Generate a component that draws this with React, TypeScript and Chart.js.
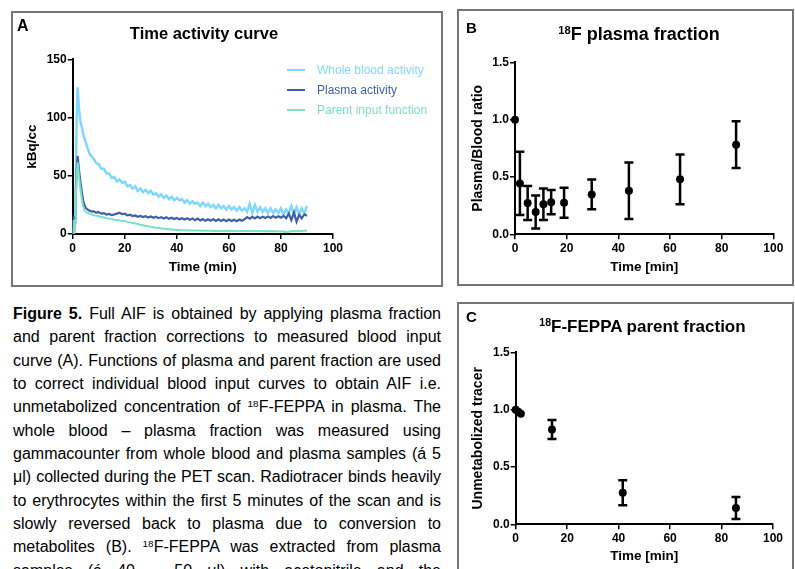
import React, { useEffect, useRef } from "react";
import { Chart, registerables } from "chart.js";

Chart.register(...registerables);

const FONT = '"Liberation Sans", Arial, Helvetica, sans-serif';
Chart.defaults.font.family = FONT;
Chart.defaults.color = "#000";

// ---------- Panel A: time activity curve ----------
const timeMin = [
  0, 0.15, 0.3, 0.5, 0.7, 0.9, 1.2, 1.5, 1.9, 2.4, 3, 3.5, 4, 4.5, 5, 5.5, 6, 6.5, 7, 7.5, 8,
  9, 10, 11, 12, 13, 14, 15, 16, 17, 18, 19, 20, 21, 22, 23, 24, 25, 26, 27, 28, 29, 30,
  31, 32, 33, 34, 35, 36, 37, 38, 39, 40, 41, 42, 43, 44, 45, 46, 47, 48, 49, 50,
  51, 52, 53, 54, 55, 56, 57, 58, 59, 60, 61, 62, 63, 64, 65, 66, 67, 68, 69, 70,
  71, 72, 73, 74, 75, 76, 77, 78, 79, 80, 81, 82, 83, 84, 85, 86, 87, 88, 89, 90,
];

const wholeBlood = [
  0, 2, 0, 3, 5, 10, 45, 95, 126, 108, 96, 92, 86, 82, 79, 75, 72, 69, 67, 66, 65,
  61, 60, 56, 56, 52, 52, 48, 49, 45, 47, 44, 45, 41, 42, 39, 41, 37, 39, 36, 38, 35, 37,
  34, 35, 32, 34, 31, 33, 30, 32, 29, 31, 29, 30, 27, 29, 26, 28, 26, 27, 24, 27,
  24, 26, 23, 25, 22, 25, 22, 24, 21, 24, 21, 23, 20, 23, 20, 22, 19, 26, 18, 25,
  19, 23, 19, 22, 18, 22, 18, 21, 18, 22, 17, 21, 18, 24, 17, 23, 17, 22, 18, 24,
];

const plasmaActivity = [
  0, 13, 12, 13, 12, 14, 35, 55, 67, 55, 44, 36, 29, 25, 22.5, 21.5, 20.5, 20, 19.5, 19.2, 19.5,
  18.3, 18.8, 17.5, 17.9, 16.6, 17.2, 16.2, 16.8, 17.5, 18.2, 17.0, 17.4, 16.0, 16.6, 15.4, 15.9, 14.8, 15.5, 14.5, 15.2, 14.2, 15.0,
  13.9, 14.8, 13.6, 14.5, 13.3, 14.3, 13.0, 14.0, 12.8, 13.8, 12.6, 13.6, 12.4, 13.5, 12.3, 13.4, 11.9, 13.2, 11.6, 12.9,
  11.5, 12.7, 11.4, 12.8, 11.3, 12.6, 11.2, 12.5, 11.0, 12.4, 11.1, 12.3, 11.0, 12.4, 11.3, 12.6, 14.5, 13.2, 14.8, 13.4,
  15.0, 13.6, 14.9, 13.7, 15.1, 13.8, 15.3, 13.9, 15.2, 14.0, 15.6, 13.5, 17.5, 12.0, 18.5, 10.5, 16.5, 13.5, 17.0, 15.5,
];

const parentInput = [
  0, 12, 1, 12, 1, 12, 30, 50, 61.5, 50, 38, 30, 24, 20.5, 19, 18.3, 17.8, 17.3, 16.9, 16.5, 16.2,
  15.6, 15.3, 14.6, 14.2, 13.6, 13.2, 12.8, 12.3, 12.0, 11.6, 11.3, 10.9, 10.4, 10.0, 9.4, 9.0, 8.5, 8.0, 7.5, 7.0, 6.6, 6.2,
  5.8, 5.4, 5.1, 4.8, 4.5, 4.3, 4.1, 3.9, 3.7, 3.5, 3.4, 3.3, 3.2, 3.2, 3.1, 3.0, 3.0, 2.9, 2.9, 2.8,
  2.9, 2.7, 2.8, 2.6, 2.8, 2.6, 2.7, 2.5, 2.7, 2.6, 2.8, 2.5, 2.6, 2.4, 2.7, 2.5, 2.6, 2.4, 2.7, 2.5,
  2.6, 2.4, 2.5, 2.3, 2.6, 2.4, 2.5, 2.3, 2.4, 2.2, 2.3, 1.6, 2.0, 2.4, 2.6, 2.3, 2.7, 2.5, 2.8, 2.9,
];

const seriesLabelsA = ["Whole blood activity", "Plasma activity", "Parent input function"];
const seriesColorsA = ["#80D8FC", "#4060AA", "#7DE0C5"];
const ticksA_x = [0, 20, 40, 60, 80, 100];
const ticksA_y = [0, 50, 100, 150];

// ---------- Panel B: 18F plasma fraction ----------
const plasmaTime = [0, 1.9, 4.9, 8, 11, 14, 19, 29.7, 44.1, 63.9, 85.6];
const plasmaRatio = [1.0, 0.444, 0.273, 0.195, 0.262, 0.28, 0.275, 0.348, 0.38, 0.48, 0.782];
const plasmaSD = [0, 0.275, 0.148, 0.144, 0.138, 0.106, 0.13, 0.13, 0.247, 0.217, 0.203];

// ---------- Panel C: parent fraction ----------
const parentTime = [0, 1, 2, 14.1, 41.6, 85.6];
const parentFraction = [1.0, 0.982, 0.965, 0.826, 0.275, 0.143];
const parentSD = [0, 0, 0, 0.083, 0.109, 0.096];

const ticksBC_x = [0, 20, 40, 60, 80, 100];
const ticksBC_y = [0, 0.5, 1.0, 1.5];

const toPoints = (xs: number[], ys: number[]) =>
  xs.map((x, i) => ({ x, y: ys[i] })).filter((p) => p.y !== undefined);

// ---------- plugins ----------
const lineLegend = {
  id: "lineLegend",
  afterDraw(chart: any, _args: any, opts: any) {
    const ctx = chart.ctx as CanvasRenderingContext2D;
    chart.data.datasets.forEach((ds: any, i: number) => {
      const y = opts.y0 + i * opts.dy;
      ctx.save();
      ctx.strokeStyle = ds.borderColor;
      ctx.lineWidth = 2;
      ctx.beginPath();
      ctx.moveTo(opts.x0, y);
      ctx.lineTo(opts.x0 + opts.len, y);
      ctx.stroke();
      ctx.fillStyle = ds.borderColor;
      ctx.font = `12px ${FONT}`;
      ctx.textBaseline = "middle";
      ctx.textAlign = "left";
      ctx.fillText(ds.label, opts.x0 + opts.len + opts.gap, y + 0.5);
      ctx.restore();
    });
  },
};

const errorBars = {
  id: "errorBars",
  beforeDatasetsDraw(chart: any, _args: any, opts: any) {
    const ctx = chart.ctx as CanvasRenderingContext2D;
    const xs = chart.scales.x;
    const ys = chart.scales.y;
    chart.data.datasets.forEach((ds: any) => {
      const errs: number[] = ds.errors || [];
      ds.data.forEach((p: any, i: number) => {
        const e = errs[i];
        if (!e) return;
        const px = xs.getPixelForValue(p.x);
        const yt = ys.getPixelForValue(p.y + e);
        const yb = ys.getPixelForValue(p.y - e);
        ctx.save();
        ctx.strokeStyle = "#000";
        ctx.lineWidth = opts.lineWidth;
        ctx.beginPath();
        ctx.moveTo(px, yt);
        ctx.lineTo(px, yb);
        ctx.moveTo(px - opts.cap, yt);
        ctx.lineTo(px + opts.cap, yt);
        ctx.moveTo(px - opts.cap, yb);
        ctx.lineTo(px + opts.cap, yb);
        ctx.stroke();
        ctx.restore();
      });
    });
  },
};

const axis = (
  min: number,
  max: number,
  ticks: number[],
  title: string,
  titleSize: number,
  fitSize: number,
  horizontal: boolean,
  decimals: number
) => ({
  type: "linear",
  min,
  max,
  afterBuildTicks: (s: any) => {
    s.ticks = ticks.map((v) => ({ value: v }));
  },
  afterFit: (s: any) => {
    if (horizontal) s.height = fitSize;
    else s.width = fitSize;
  },
  ticks: {
    color: "#000",
    font: { size: 12, weight: "bold" },
    padding: horizontal ? 2 : 1,
    callback: (v: any) => Number(v).toFixed(decimals),
    maxRotation: 0,
    autoSkip: false,
  },
  grid: {
    drawOnChartArea: false,
    drawTicks: true,
    tickLength: 5,
    color: "#000",
    lineWidth: 1.5,
  },
  border: { display: true, color: "#000", width: 2 },
  title: {
    display: true,
    text: title,
    color: "#000",
    font: { size: titleSize, weight: "bold" },
    padding: { top: 0, bottom: 0 },
  },
});

export default function App() {
  const refA = useRef<HTMLCanvasElement>(null);
  const refB = useRef<HTMLCanvasElement>(null);
  const refC = useRef<HTMLCanvasElement>(null);

  useEffect(() => {
    const seriesA = [wholeBlood, plasmaActivity, parentInput];
    const widthsA = [2.5, 2.2, 2];
    const chartA = new Chart(refA.current as HTMLCanvasElement, {
      type: "line",
      data: {
        datasets: seriesA.map((vals, i) => ({
          label: seriesLabelsA[i],
          data: toPoints(timeMin, vals),
          borderColor: seriesColorsA[i],
          backgroundColor: seriesColorsA[i],
          borderWidth: widthsA[i],
          pointRadius: 0,
          tension: 0,
          order: 3 - i,
        })),
      },
      options: {
        animation: false,
        responsive: false,
        events: [],
        layout: { padding: { left: 11.9, top: 47.3, right: 109, bottom: 10.9 } },
        plugins: {
          legend: { display: false },
          tooltip: { enabled: false },
          lineLegend: { x0: 275, len: 18, gap: 12, y0: 58, dy: 20 },
        } as any,
        scales: {
          x: axis(0, 100, ticksA_x, "Time (min)", 13.5, 41.1, true, 0),
          y: axis(0, 150, ticksA_y, "kBq/cc", 13.5, 48.8, false, 0),
        } as any,
      },
      plugins: [lineLegend as any],
    });

    const scatterCfg = (
      canvas: HTMLCanvasElement,
      xs: number[],
      ys: number[],
      sd: number[],
      yTitle: string,
      padding: any,
      xFit: number,
      yFit: number
    ) =>
      new Chart(canvas, {
        type: "scatter",
        data: {
          datasets: [
            {
              label: yTitle,
              data: toPoints(xs, ys),
              errors: sd,
              pointRadius: 4,
              pointBackgroundColor: "#000",
              pointBorderColor: "#000",
              pointBorderWidth: 0,
              clip: false,
            } as any,
          ],
        },
        options: {
          animation: false,
          responsive: false,
          events: [],
          layout: { padding },
          plugins: {
            legend: { display: false },
            tooltip: { enabled: false },
            errorBars: { lineWidth: 2.5, cap: 4.5 },
          } as any,
          scales: {
            x: axis(0, 100, ticksBC_x, "Time [min]", 13.5, xFit, true, 0),
            y: axis(0, 1.5, ticksBC_y, yTitle, 14, yFit, false, 1),
          } as any,
        },
        plugins: [errorBars as any],
      });

    const chartB = scatterCfg(
      refB.current as HTMLCanvasElement,
      plasmaTime,
      plasmaRatio,
      plasmaSD,
      "Plasma/Blood ratio",
      { left: 11.6, top: 52.3, right: 18.7, bottom: 9.9 },
      40.8,
      45.4
    );
    const chartC = scatterCfg(
      refC.current as HTMLCanvasElement,
      parentTime,
      parentFraction,
      parentSD,
      "Unmetabolized tracer",
      { left: 11.6, top: 47.3, right: 19, bottom: 4.9 },
      39.8,
      46.1
    );

    return () => {
      chartA.destroy();
      chartB.destroy();
      chartC.destroy();
    };
  }, []);

  const abs = (o: any) => ({ position: "absolute" as const, ...o });
  const panelBorder = "2px solid #767676";
  const titleStyle = (cx: number, cy: number, size: number) =>
    abs({
      left: cx,
      top: cy,
      transform: "translate(-50%, -50%)",
      whiteSpace: "nowrap",
      fontWeight: "bold",
      fontSize: size,
      lineHeight: 1.15,
      color: "#000",
    });
  const sup = { fontSize: "0.62em", verticalAlign: "0.55em", lineHeight: 0 };
  const letter = (x: number, y: number, size: number) =>
    abs({ left: x, top: y, fontWeight: "bold", fontSize: size, lineHeight: 1, color: "#000" });

  const lines: React.ReactNode[] = [
    <>
      <b>Figure 5.</b> Full AIF is obtained by applying plasma fraction
    </>,
    <>and parent fraction corrections to measured blood input</>,
    <>curve (A). Functions of plasma and parent fraction are used</>,
    <>to correct individual blood input curves to obtain AIF i.e.</>,
    <>
      unmetabolized concentration of <span style={sup}>18</span>F-FEPPA in plasma. The
    </>,
    <>whole blood – plasma fraction was measured using</>,
    <>gammacounter from whole blood and plasma samples (á 5</>,
    <>μl) collected during the PET scan. Radiotracer binds heavily</>,
    <>to erythrocytes within the first 5 minutes of the scan and is</>,
    <>slowly reversed back to plasma due to conversion to</>,
    <>
      metabolites (B). <span style={sup}>18</span>F-FEPPA was extracted from plasma
    </>,
    <>samples (á 40 – 50 μl) with acetonitrile and the</>,
  ];

  return (
    <div
      style={{
        position: "fixed",
        left: 0,
        top: 0,
        width: 795,
        height: 569,
        overflow: "hidden",
        background: "#fff",
        fontFamily: FONT,
      }}
    >
      <div style={abs({ left: 11, top: 11, width: 432, height: 276, border: panelBorder, boxSizing: "border-box" })} />
      <div style={abs({ left: 457, top: 9, width: 337, height: 277, border: panelBorder, boxSizing: "border-box" })} />
      <div style={abs({ left: 457, top: 302, width: 337, height: 300, border: panelBorder, boxSizing: "border-box" })} />

      <canvas ref={refA} width={430} height={274} style={abs({ left: 12, top: 12 })} />
      <canvas ref={refB} width={334} height={275} style={abs({ left: 458, top: 10 })} />
      <canvas ref={refC} width={334} height={264} style={abs({ left: 458, top: 305 })} />

      <div style={letter(17, 18, 16)}>A</div>
      <div style={letter(466, 20, 15)}>B</div>
      <div style={letter(466, 309, 15)}>C</div>

      <div style={titleStyle(204, 32.5, 16.5)}>Time activity curve</div>
      <div style={titleStyle(639, 33.5, 18)}>
        <span style={sup}>18</span>F plasma fraction
      </div>
      <div style={titleStyle(642.5, 326.5, 17)}>
        <span style={sup}>18</span>F-FEPPA parent fraction
      </div>

      <div
        style={abs({
          left: 13,
          top: 302,
          width: 428,
          fontSize: 16,
          lineHeight: "23.33px",
          color: "#000",
        })}
      >
        {lines.map((l, i) => (
          <div key={i} style={{ textAlign: "justify", textAlignLast: "justify", height: 23.33 }}>
            {l}
          </div>
        ))}
      </div>
    </div>
  );
}
